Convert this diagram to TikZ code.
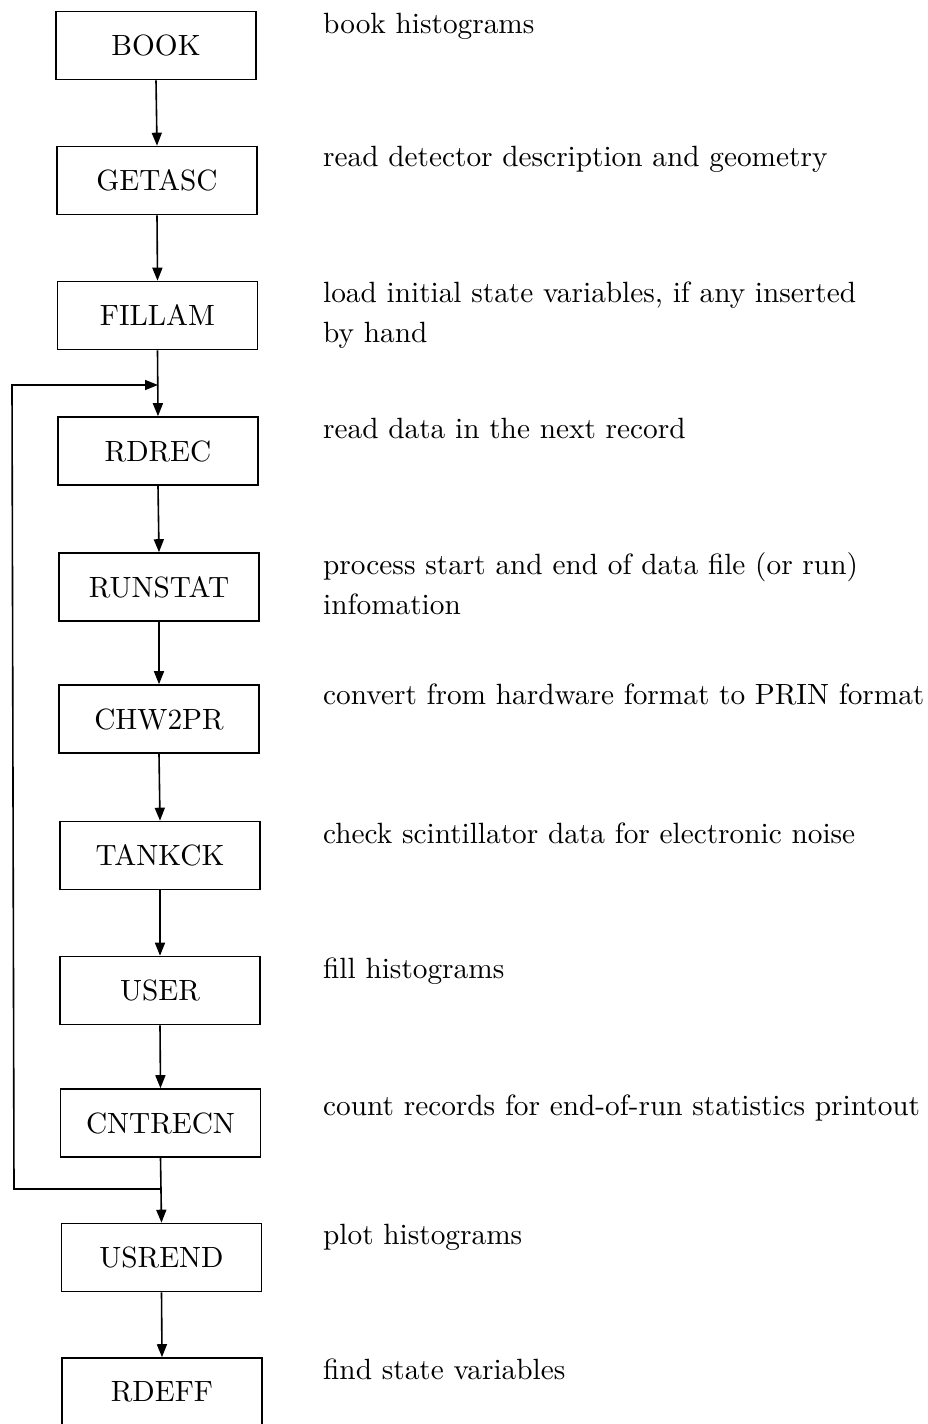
\documentclass[tikz,border=0pt]{standalone}
\usepackage{fontspec}
\setmainfont{lmroman10-regular.otf}
\usetikzlibrary{arrows.meta}

\tikzset{
  routine/.style={draw, line width=1.6pt, minimum width=200pt, minimum height=68pt,
    inner sep=0pt, font=\fontsize{29.3}{40}\selectfont},
  note/.style={anchor=base west, inner sep=0pt, align=left,
    font=\fontsize{29.3}{40}\selectfont},
  flow/.style={line width=1.6pt, -{Triangle[length=13pt,width=10pt]}}
}

\begin{document}
\begin{tikzpicture}[x=1pt,y=-1pt]
\useasboundingbox (0,0) rectangle (927,1424);

% program steps
\node[routine] (book)    at (156,45.5)   {BOOK};
\node[routine] (getasc)  at (157,180.5)  {GETASC};
\node[routine] (fillam)  at (157.5,315.5){FILLAM};
\node[routine] (rdrec)   at (158,451)    {RDREC};
\node[routine] (runstat) at (159,587)    {RUNSTAT};
\node[routine] (chw)     at (159,719)    {CHW2PR};
\node[routine] (tankck)  at (160,855.5)  {TANKCK};
\node[routine] (user)    at (160,990.5)  {USER};
\node[routine] (cntrecn) at (160.5,1123) {CNTRECN};
\node[routine] (usrend)  at (161.5,1257.5){USREND};
\node[routine] (rdeff)   at (162,1392)   {RDEFF};

% descriptions (base anchor of a two-line note is its last line)
\node[note] (dbook)    at (323,33)   {book histograms};
\node[note] (dgetasc)  at (323,166)  {read detector description and geometry};
\node[note] (dfillam)  at (323,342)  {load initial state variables, if any inserted\\by hand};
\node[note] (drdrec)   at (323,438)  {read data in the next record};
\node[note] (drunstat) at (323,614)  {process start and end of data file (or run)\\infomation};
\node[note] (dchw)     at (323,704)  {convert from hardware format to PRIN format};
\node[note] (dtankck)  at (323,843)  {check scintillator data for electronic noise};
\node[note] (duser)    at (323,978)  {fill histograms};
\node[note] (dcntrecn) at (323,1115) {count records for end-of-run statistics printout};
\node[note] (dusrend)  at (323,1244) {plot histograms};
\node[note] (drdeff)   at (323,1379) {find state variables};

% main sequence
\draw[flow] (book.south)    -- (getasc.north);
\draw[flow] (getasc.south)  -- (fillam.north);
\draw[flow] (fillam.south)  -- (rdrec.north);
\draw[flow] (rdrec.south)   -- (runstat.north);
\draw[flow] (runstat.south) -- (chw.north);
\draw[flow] (chw.south)     -- (tankck.north);
\draw[flow] (tankck.south)  -- (user.north);
\draw[flow] (user.south)    -- (cntrecn.north);
\draw[flow] (cntrecn.south) -- (usrend.north);
\draw[flow] (usrend.south)  -- (rdeff.north);

% record loop back to RDREC
\coordinate (loopout) at (161,1189);
\coordinate (loopbl)  at (14,1189);
\coordinate (looptl)  at (12,385);
\coordinate (loopin)  at (158,385);
\draw[flow] (loopout) -- (loopbl) -- (looptl) -- (loopin);
\end{tikzpicture}
\end{document}
